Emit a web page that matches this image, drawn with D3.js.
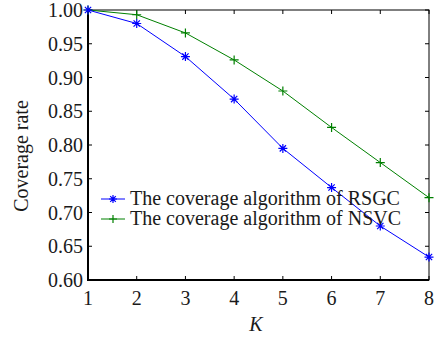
<!DOCTYPE html>
<html>
<head>
<meta charset="utf-8">
<script src="https://cdn.jsdelivr.net/npm/d3@7"></script>
<style>
  body { margin: 0; background: #fff; }
  text { font-family: "Liberation Serif", "Times New Roman", serif; fill: #1a1a1a; }
</style>
</head>
<body>
<svg id="chart" width="435" height="339"></svg>
<script>
(function () {
    'use strict';

    // K values on the x axis
    var kValues = [1, 2, 3, 4, 5, 6, 7, 8];

    // Coverage rate for each algorithm
    var rsgcValues = [1.000, 0.980, 0.931, 0.868, 0.795, 0.737, 0.680, 0.634];
    var nsvcValues = [1.000, 0.993, 0.966, 0.926, 0.880, 0.826, 0.774, 0.722];

    var yTicks = [0.60, 0.65, 0.70, 0.75, 0.80, 0.85, 0.90, 0.95, 1.00];
    var seriesNames = ['The coverage algorithm of RSGC', 'The coverage algorithm of NSVC'];

    var left = 88, right = 429, top = 10, bottom = 280;
    var fontSize = 20;

    var svg = d3.select('#chart');

    var xScale = d3.scaleLinear().domain([1, 8]).range([left, right]);
    var yScale = d3.scaleLinear().domain([0.60, 1.00]).range([bottom, top]);

    // frame
    svg.append('rect')
        .attr('x', left).attr('y', top)
        .attr('width', right - left).attr('height', bottom - top)
        .attr('fill', 'none').attr('stroke', '#000').attr('stroke-width', 1);

    // inward ticks on all four sides
    var tickLen = 4;
    var g = svg.append('g').attr('stroke', '#000').attr('stroke-width', 1);
    kValues.forEach(function (k) {
        var x = xScale(k);
        g.append('line').attr('x1', x).attr('x2', x).attr('y1', bottom).attr('y2', bottom - tickLen);
        g.append('line').attr('x1', x).attr('x2', x).attr('y1', top).attr('y2', top + tickLen);
    });
    yTicks.forEach(function (v) {
        var y = yScale(v);
        g.append('line').attr('x1', left).attr('x2', left + tickLen).attr('y1', y).attr('y2', y);
        g.append('line').attr('x1', right).attr('x2', right - tickLen).attr('y1', y).attr('y2', y);
    });

    // heavier left and bottom spines
    svg.append('line').attr('x1', left).attr('x2', left).attr('y1', top).attr('y2', bottom + 1)
        .attr('stroke', '#000').attr('stroke-width', 2);
    svg.append('line').attr('x1', left).attr('x2', right).attr('y1', bottom).attr('y2', bottom)
        .attr('stroke', '#000').attr('stroke-width', 2);

    // tick labels
    svg.append('g').selectAll('text')
        .data(kValues).enter().append('text')
        .attr('x', function (d) { return xScale(d); })
        .attr('y', 305)
        .attr('text-anchor', 'middle')
        .attr('font-size', fontSize)
        .text(function (d) { return d; });

    svg.append('g').selectAll('text')
        .data(yTicks).enter().append('text')
        .attr('x', left - 5)
        .attr('y', function (d) { return yScale(d) + 7; })
        .attr('text-anchor', 'end')
        .attr('font-size', fontSize)
        .text(function (d) { return d.toFixed(2); });

    // axis titles
    svg.append('text')
        .attr('x', 256)
        .attr('y', 331)
        .attr('text-anchor', 'middle')
        .attr('font-size', fontSize)
        .attr('font-style', 'italic')
        .text('K');

    svg.append('text')
        .attr('transform', 'translate(28,156) rotate(-90)')
        .attr('text-anchor', 'middle')
        .attr('font-size', fontSize)
        .text('Coverage rate');

    // series
    var line = d3.line()
        .x(function (d, i) { return xScale(kValues[i]); })
        .y(function (d) { return yScale(d); });

    var blue = '#0000ff', green = '#008000';

    function asterisk(sel, s) {
        sel.append('path')
            .attr('d', 'M' + (-s) + ',0H' + s + 'M0,' + (-s) + 'V' + s +
                'M' + (-s * 0.7) + ',' + (-s * 0.7) + 'L' + (s * 0.7) + ',' + (s * 0.7) +
                'M' + (-s * 0.7) + ',' + (s * 0.7) + 'L' + (s * 0.7) + ',' + (-s * 0.7));
    }
    function plus(sel, s) {
        sel.append('path').attr('d', 'M' + (-s) + ',0H' + s + 'M0,' + (-s) + 'V' + s);
    }

    function drawSeries(values, color, marker) {
        svg.append('path')
            .datum(values)
            .attr('d', line)
            .attr('fill', 'none')
            .attr('stroke', color)
            .attr('stroke-width', 1);
        svg.append('g').selectAll('g')
            .data(values).enter().append('g')
            .attr('transform', function (d, i) {
                return 'translate(' + xScale(kValues[i]) + ',' + yScale(d) + ')';
            })
            .attr('stroke', color)
            .attr('stroke-width', 1.2)
            .attr('fill', 'none')
            .each(function () { marker(d3.select(this), 4.5); });
    }

    drawSeries(nsvcValues, green, plus);
    drawSeries(rsgcValues, blue, asterisk);

    // legend
    var legend = svg.append('g');
    var legendRows = [
        { name: seriesNames[0], color: blue, marker: asterisk, y: 199 },
        { name: seriesNames[1], color: green, marker: plus, y: 219 }
    ];
    legendRows.forEach(function (r) {
        legend.append('line')
            .attr('x1', 101).attr('x2', 125).attr('y1', r.y).attr('y2', r.y)
            .attr('stroke', r.color).attr('stroke-width', 1);
        var m = legend.append('g')
            .attr('transform', 'translate(113,' + r.y + ')')
            .attr('stroke', r.color).attr('stroke-width', 1.2).attr('fill', 'none');
        r.marker(m, 4);
        legend.append('text')
            .attr('x', 130).attr('y', r.y + 6)
            .attr('font-size', fontSize)
            .text(r.name);
    });
})();
</script>
</body>
</html>
